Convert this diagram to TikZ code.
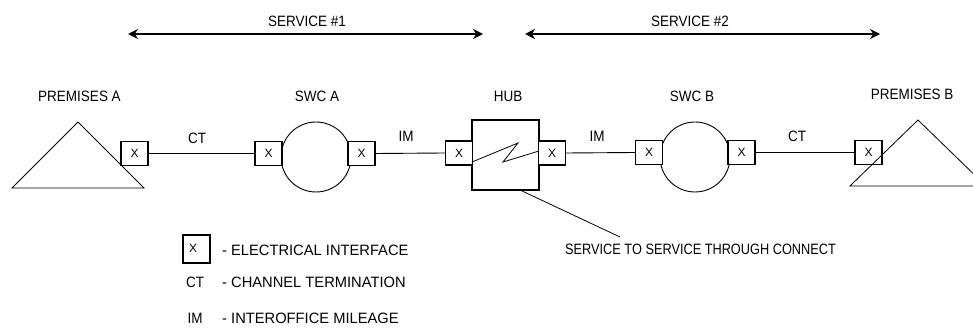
\documentclass[tikz,border=0pt]{standalone}
\usepackage{fontspec}
\setmainfont{Liberation Sans}
\usetikzlibrary{arrows.meta}
\newcommand\nrw[1]{\scalebox{0.9}[1]{#1}}
\begin{document}
\begin{tikzpicture}[x=1pt,y=-1pt,
  lbl/.style={inner sep=0pt,font=\fontsize{15}{17}\selectfont,text height=10.8pt,text depth=0pt},
  xbox/.style={draw,line width=1.1pt,fill=white,minimum width=27pt,minimum height=24pt,inner sep=0pt,font=\fontsize{12}{13}\selectfont},
  wire/.style={line width=0.9pt},
  thin/.style={line width=0.8pt},
  svc/.style={line width=2.6pt,{Stealth[length=10pt,width=10pt]}-{Stealth[length=10pt,width=10pt]}},
  swc/.style={circle,draw,line width=0.9pt,minimum size=70pt,inner sep=0pt}
]
\useasboundingbox (0,0) rectangle (973,328);
% service arrows
\coordinate (s1l) at (128,34); \coordinate (s1r) at (483,34);
\coordinate (s2l) at (525,34); \coordinate (s2r) at (880,34);
\draw[svc] (s1l) -- (s1r);
\draw[svc] (s2l) -- (s2r);
\node[lbl] (t1) at (307,21) {\nrw{SERVICE \#1}};
\node[lbl] (t2) at (690,21) {\nrw{SERVICE \#2}};
% titles
\node[lbl] (pa) at (79.5,96) {\nrw{PREMISES A}};
\node[lbl] (la) at (317,96) {\nrw{SWC A}};
\node[lbl] (lh) at (508,96) {\nrw{HUB}};
\node[lbl] (lb) at (692,96) {\nrw{SWC B}};
\node[lbl] (pb) at (912,94) {\nrw{PREMISES B}};
% triangles
\draw[thin] (78,122) -- (144,188) -- (12,188) -- cycle;
\draw[thin] (918,120) -- (986,186) -- (850,186) -- cycle;
% switching centres
\node[swc] (ca) at (316,157) {};
\node[swc] (cb) at (695,157) {};
% hub
\node[draw,line width=1.1pt,minimum width=67pt,minimum height=70pt,inner sep=0pt] (hub) at (505.5,155) {};
\draw[thin] (472,162) -- (518,143) -- (503,162) -- (539,151);
% interface boxes
\node[xbox,fill=none] (a1) at (134.5,153.5) {X};
\node[xbox] (a2) at (268.5,153.5) {X};
\node[xbox] (a3) at (361.5,153.5) {X};
\node[xbox] (h1) at (459,153) {X};
\node[xbox] (h2) at (552,153) {X};
\node[xbox] (b1) at (649,152.5) {X};
\node[xbox] (b2) at (741.5,152.5) {X};
\node[xbox,fill=none] (b3) at (868.5,152.5) {X};
% wires
\draw[wire] (a1.east) -- (a2.west);
\draw[wire] (a3.east) -- (h1.west);
\draw[wire] (h2.east) -- (b1.west);
\draw[wire] (b2.east) -- (b3.west);
\node[lbl] (ct1) at (197,138) {\nrw{CT}};
\node[lbl] (im1) at (406,136) {\nrw{IM}};
\node[lbl] (im2) at (597,136) {\nrw{IM}};
\node[lbl] (ct2) at (797,136) {\nrw{CT}};
% pointer
\coordinate (hp) at (520,190);
\coordinate (pe) at (620,237);
\draw[thin] (hp) -- (pe);
\node[lbl,anchor=west] (thru) at (565,249) {\scalebox{0.85}[1]{SERVICE TO SERVICE THROUGH CONNECT}};
% legend
\node[draw,line width=1.1pt,minimum width=27pt,minimum height=28pt,inner sep=0pt] (lgx) at (196.5,249) {};
\node[lbl,font=\fontsize{12}{13}\selectfont,text height=8.6pt] (lgxt) at (193,248) {X};
\node[lbl,anchor=west] (l1) at (222,250) {\scalebox{0.98}[1]{- ELECTRICAL INTERFACE}};
\node[lbl] (l2a) at (195,282) {\nrw{CT}};
\node[lbl,anchor=west] (l2) at (222,282) {\scalebox{0.98}[1]{- CHANNEL TERMINATION}};
\node[lbl] (l3a) at (195,318) {\nrw{IM}};
\node[lbl,anchor=west] (l3) at (222,318) {\scalebox{0.98}[1]{- INTEROFFICE MILEAGE}};
\end{tikzpicture}
\end{document}
